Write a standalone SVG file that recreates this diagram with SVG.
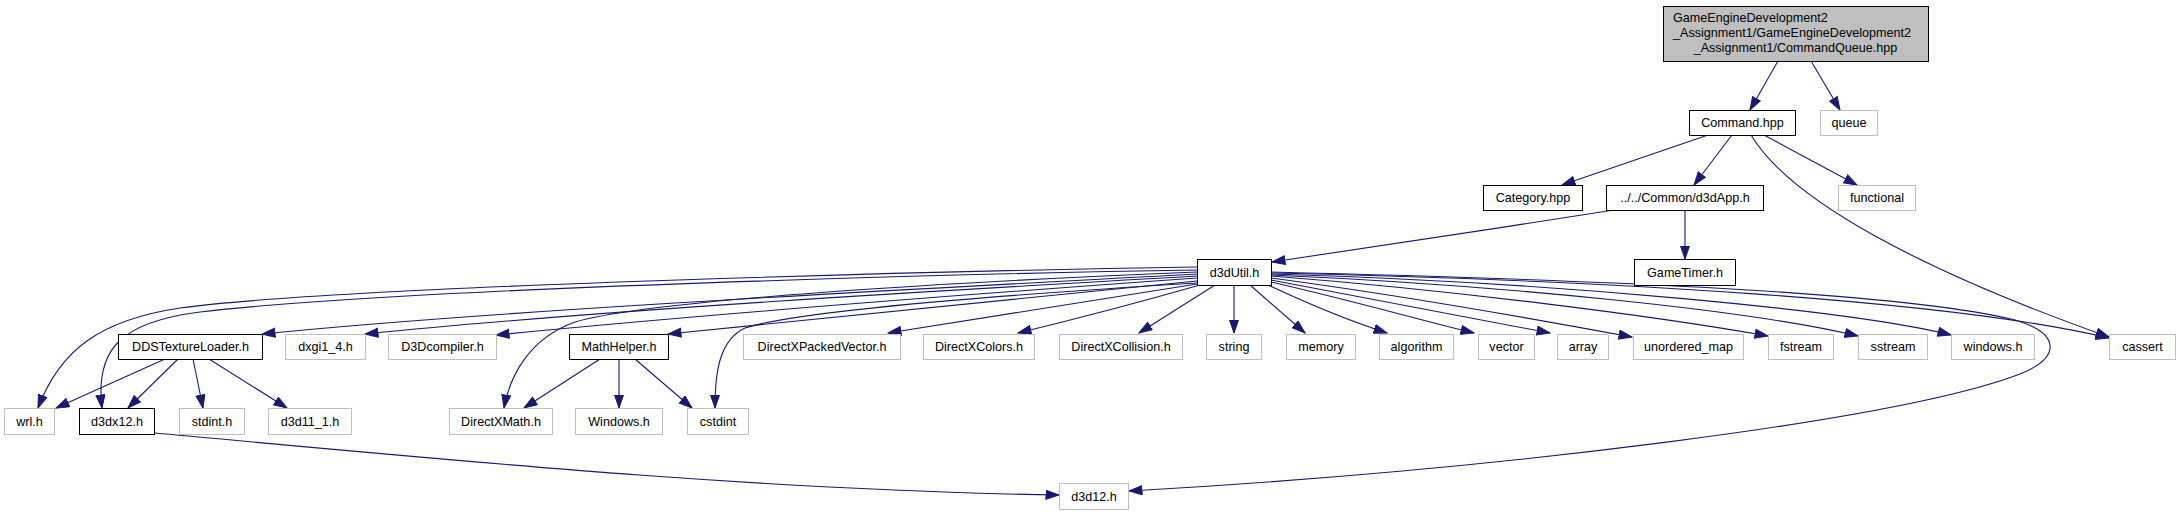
<svg xmlns="http://www.w3.org/2000/svg" width="2180" height="515" viewBox="0 0 2180 515">
<defs>
<marker id="arr" markerUnits="userSpaceOnUse" markerWidth="15" markerHeight="11" refX="13.5" refY="5" orient="auto">
<path d="M0.5,0.5 L13.5,5 L0.5,9.5 z" fill="#191970" stroke="#191970" stroke-width="1"/>
</marker>
<style>
.e{fill:none;stroke:#191970;stroke-width:1.1;marker-end:url(#arr)}
.n rect{fill:#fff;stroke:#000;stroke-width:1}
.g rect{fill:#fff;stroke:#bfbfbf;stroke-width:1}
.m rect{fill:#bfbfbf;stroke:#000;stroke-width:1}
text{font-family:"Liberation Sans",Arial,sans-serif;font-size:12.6px;fill:#000;text-anchor:middle}
</style>
</defs>
<rect width="2180" height="515" fill="#fff"/>
<g id="edges">
<path class="e" d="M1778,61 L1750,110"/>
<path class="e" d="M1811,61 L1840,110"/>
<path class="e" d="M1708,135 L1562,185"/>
<path class="e" d="M1732,135 L1694,185"/>
<path class="e" d="M1764,135 L1857,185"/>
<path class="e" d="M1751,135 C1790,200 1920,270 2109,337"/>
<path class="e" d="M1614,210 C1500,228 1380,246 1272,262"/>
<path class="e" d="M1685,210 L1685,259"/>
<path class="e" d="M1197,267 C1000,270 350,285 180,308 C100,320 60,350 38,408"/>
<path class="e" d="M1197,270 C1000,273 400,288 200,312 C120,322 95,350 102,408"/>
<path class="e" d="M1197,274 C900,290 500,310 262,334"/>
<path class="e" d="M1197,276 C950,290 600,310 365,334"/>
<path class="e" d="M1197,278 C1000,292 700,315 496,335"/>
<path class="e" d="M1197,281 C1000,300 800,320 668,334"/>
<path class="e" d="M1197,272 C950,282 650,300 575,322 C530,338 510,375 504,408"/>
<path class="e" d="M1197,283 C1000,295 800,310 745,328 C720,340 715,370 715,408"/>
<path class="e" d="M1197,284 C1100,300 1000,315 888,333"/>
<path class="e" d="M1200,285 C1130,305 1080,318 1018,333"/>
<path class="e" d="M1215,285 L1139,333"/>
<path class="e" d="M1234,285 L1234,333"/>
<path class="e" d="M1250,285 L1305,333"/>
<path class="e" d="M1268,285 C1300,300 1340,318 1387,333"/>
<path class="e" d="M1271,282 C1350,300 1420,320 1474,333"/>
<path class="e" d="M1271,280 C1380,300 1480,320 1550,333"/>
<path class="e" d="M1271,278 C1400,295 1540,320 1632,337"/>
<path class="e" d="M1271,276 C1450,290 1650,315 1768,336"/>
<path class="e" d="M1271,275 C1500,285 1750,310 1858,336"/>
<path class="e" d="M1271,274 C1550,282 1850,310 1951,335"/>
<path class="e" d="M1271,273 C1600,280 1950,300 2109,338"/>
<path class="e" d="M1271,272 C1600,280 1900,292 2015,320 C2062,334 2060,358 2020,374 C1900,420 1500,470 1129,491"/>
<path class="e" d="M165,359 L56,408"/>
<path class="e" d="M178,359 L128,408"/>
<path class="e" d="M193,359 L203,408"/>
<path class="e" d="M209,359 L287,408"/>
<path class="e" d="M600,359 L524,408"/>
<path class="e" d="M619,359 L619,408"/>
<path class="e" d="M635,359 L692,408"/>
<path class="e" d="M155,433 C450,460 750,490 1059,495"/>
</g>
<g id="node-main" class="m"><rect x="1663.5" y="6.5" width="265" height="55"/>
<text x="1673" y="21.5" style="text-anchor:start">GameEngineDevelopment2</text>
<text x="1673" y="36.5" style="text-anchor:start">_Assignment1/GameEngineDevelopment2</text>
<text x="1795.5" y="51.5">_Assignment1/CommandQueue.hpp</text></g>
<g id="node-command" class="n"><rect x="1689.5" y="110.5" width="106" height="25"/><text x="1742.5" y="127">Command.hpp</text></g>
<g id="node-queue" class="g"><rect x="1820.5" y="110.5" width="57" height="25"/><text x="1849" y="127">queue</text></g>
<g id="node-category" class="n"><rect x="1483.5" y="185.5" width="99" height="25"/><text x="1533" y="202">Category.hpp</text></g>
<g id="node-d3dapp" class="n"><rect x="1606.5" y="185.5" width="157" height="25"/><text x="1685" y="202">../../Common/d3dApp.h</text></g>
<g id="node-functional" class="g"><rect x="1838.5" y="185.5" width="77" height="25"/><text x="1877" y="202">functional</text></g>
<g id="node-d3dutil" class="n"><rect x="1197.5" y="259.5" width="74" height="26"/><text x="1234.5" y="277">d3dUtil.h</text></g>
<g id="node-gametimer" class="n"><rect x="1634.5" y="259.5" width="101" height="26"/><text x="1685" y="277">GameTimer.h</text></g>
<g id="node-ddstextureloader" class="n"><rect x="118.5" y="334.5" width="144" height="25"/><text x="190.5" y="351">DDSTextureLoader.h</text></g>
<g id="node-dxgi" class="g"><rect x="285.5" y="334.5" width="80" height="25"/><text x="325.5" y="351">dxgi1_4.h</text></g>
<g id="node-d3dcompiler" class="g"><rect x="388.5" y="334.5" width="108" height="25"/><text x="442.5" y="351">D3Dcompiler.h</text></g>
<g id="node-mathhelper" class="n"><rect x="569.5" y="334.5" width="99" height="25"/><text x="619" y="351">MathHelper.h</text></g>
<g id="node-packedvector" class="g"><rect x="743.5" y="334.5" width="157" height="25"/><text x="822" y="351">DirectXPackedVector.h</text></g>
<g id="node-colors" class="g"><rect x="923.5" y="334.5" width="111" height="25"/><text x="979" y="351">DirectXColors.h</text></g>
<g id="node-collision" class="g"><rect x="1059.5" y="334.5" width="123" height="25"/><text x="1121" y="351">DirectXCollision.h</text></g>
<g id="node-string" class="g"><rect x="1206.5" y="334.5" width="55" height="25"/><text x="1234" y="351">string</text></g>
<g id="node-memory" class="g"><rect x="1286.5" y="334.5" width="69" height="25"/><text x="1321" y="351">memory</text></g>
<g id="node-algorithm" class="g"><rect x="1379.5" y="334.5" width="74" height="25"/><text x="1416.5" y="351">algorithm</text></g>
<g id="node-vector" class="g"><rect x="1478.5" y="334.5" width="56" height="25"/><text x="1506.5" y="351">vector</text></g>
<g id="node-array" class="g"><rect x="1557.5" y="334.5" width="51" height="25"/><text x="1583" y="351">array</text></g>
<g id="node-unordered-map" class="g"><rect x="1633.5" y="334.5" width="110" height="25"/><text x="1688.5" y="351">unordered_map</text></g>
<g id="node-fstream" class="g"><rect x="1768.5" y="334.5" width="65" height="25"/><text x="1801" y="351">fstream</text></g>
<g id="node-sstream" class="g"><rect x="1858.5" y="334.5" width="69" height="25"/><text x="1893" y="351">sstream</text></g>
<g id="node-windows-lower" class="g"><rect x="1951.5" y="334.5" width="83" height="25"/><text x="1993" y="351">windows.h</text></g>
<g id="node-cassert" class="g"><rect x="2109.5" y="334.5" width="66" height="25"/><text x="2142.5" y="351">cassert</text></g>
<g id="node-wrl" class="g"><rect x="4.5" y="408.5" width="50" height="26"/><text x="29.5" y="425.5">wrl.h</text></g>
<g id="node-d3dx12" class="n"><rect x="79.5" y="408.5" width="75" height="26"/><text x="117" y="425.5">d3dx12.h</text></g>
<g id="node-stdint" class="g"><rect x="179.5" y="408.5" width="65" height="26"/><text x="212" y="425.5">stdint.h</text></g>
<g id="node-d3d11" class="g"><rect x="268.5" y="408.5" width="83" height="26"/><text x="310" y="425.5">d3d11_1.h</text></g>
<g id="node-directxmath" class="g"><rect x="449.5" y="408.5" width="103" height="26"/><text x="501" y="425.5">DirectXMath.h</text></g>
<g id="node-windows-upper" class="g"><rect x="575.5" y="408.5" width="87" height="26"/><text x="619" y="425.5">Windows.h</text></g>
<g id="node-cstdint" class="g"><rect x="687.5" y="408.5" width="61" height="26"/><text x="718" y="425.5">cstdint</text></g>
<g id="node-d3d12" class="g"><rect x="1059.5" y="483.5" width="69" height="26"/><text x="1094" y="500.5">d3d12.h</text></g>
</svg>
